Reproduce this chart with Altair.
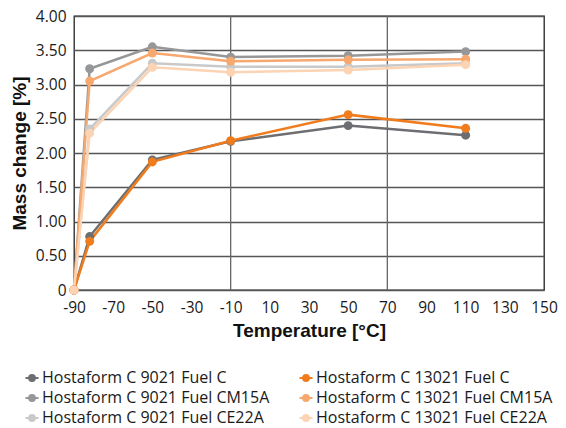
import altair as alt
import pandas as pd

temps = [-90, -82, -50, -10, 50, 110]
series_names = [
    "Hostaform C 9021 Fuel C",
    "Hostaform C 9021 Fuel CM15A",
    "Hostaform C 9021 Fuel CE22A",
    "Hostaform C 13021 Fuel C",
    "Hostaform C 13021 Fuel CM15A",
    "Hostaform C 13021 Fuel CE22A",
]
series_colors = ["#6d6e71", "#969799", "#c9c9c9", "#f07c1e", "#f7a86e", "#fcd3b3"]
v_9021_c = [0, 0.78, 1.90, 2.17, 2.40, 2.26]
v_9021_cm15a = [0, 3.23, 3.55, 3.40, 3.42, 3.48]
v_9021_ce22a = [0, 2.35, 3.31, 3.26, 3.26, 3.31]
v_13021_c = [0, 0.71, 1.87, 2.18, 2.56, 2.36]
v_13021_cm15a = [0, 3.05, 3.46, 3.34, 3.36, 3.37]
v_13021_ce22a = [0, 2.29, 3.25, 3.18, 3.21, 3.29]
values = [v_9021_c, v_9021_cm15a, v_9021_ce22a, v_13021_c, v_13021_cm15a, v_13021_ce22a]

x_ticks = list(range(-90, 151, 20))
y_ticks = [0, 0.5, 1, 1.5, 2, 2.5, 3, 3.5, 4]
x_grid = [-10, 70]

rows = []
for name, vals in zip(series_names, values):
    for t, v in zip(temps, vals):
        rows.append({"series": name, "temp": t, "value": v})
df = pd.DataFrame(rows)
grid_df = pd.DataFrame({"g": x_grid})

LFONT = "Open Sans"
TFONT = "Liberation Sans"

xscale = alt.Scale(domain=[-90, 150], nice=False, zero=False)
yscale = alt.Scale(domain=[0, 4], nice=False)
cscale = alt.Scale(domain=series_names, range=series_colors)

color = alt.Color(
    "series:N",
    sort=series_names,
    scale=cscale,
    legend=alt.Legend(
        title=None,
        orient="none",
        legendX=-50,
        legendY=354,
        columns=2,
        columnPadding=25,
        rowPadding=4,
        symbolType="M-1,0 L1,0 M0.45,0 A0.45,0.45 0 1,1 -0.45,0 A0.45,0.45 0 1,1 0.45,0 Z",
        symbolSize=170,
        symbolStrokeWidth=2,
        symbolOffset=0,
        labelFont=LFONT,
        labelFontSize=16,
        labelColor="#1a1a1a",
        labelOffset=2,
        labelLimit=400,
    ),
)

grid = alt.Chart(grid_df).mark_rule(color="#666666", strokeWidth=1.3).encode(
    x=alt.X("g:Q", scale=xscale)
)

lines = alt.Chart(df).mark_line(strokeWidth=2.5).encode(
    x=alt.X(
        "temp:Q",
        scale=xscale,
        axis=alt.Axis(
            values=x_ticks,
            tickCount=40,
            labelExpr="'' + datum.value",
            title="Temperature [°C]",
            grid=False,
            ticks=False,
            domain=False,
            labelPadding=10,
            titlePadding=6,
            labelOverlap=False,
            labelFlush=False,
        ),
    ),
    y=alt.Y(
        "value:Q",
        scale=yscale,
        axis=alt.Axis(
            values=y_ticks,
            tickCount=40,
            labelExpr="datum.value == 0 ? '0' : format(datum.value, '.2f')",
            title="Mass change [%]",
            grid=True,
            gridColor="#555555",
            gridWidth=1.3,
            ticks=False,
            domain=False,
            labelPadding=8,
            titlePadding=6,
            labelOverlap=False,
            labelFlush=False,
        ),
    ),
    color=color,
    detail="series:N",
)

points = alt.Chart(df).mark_circle(size=80, opacity=1).encode(
    x=alt.X("temp:Q", scale=xscale),
    y=alt.Y("value:Q", scale=yscale),
    color=alt.Color("series:N", sort=series_names, scale=cscale, legend=None),
)

chart = (
    alt.layer(grid, lines, points)
    .properties(
        width=470,
        height=274,
        autosize=alt.AutoSizeParams(type="none"),
        padding={"left": 66, "top": 8, "right": 14, "bottom": 138},
    )
    .configure_view(stroke="#222222", strokeWidth=1.3)
    .configure_axis(
        labelOverlap=False,
        labelFlush=False,
        labelFont=LFONT,
        labelFontSize=15.5,
        labelColor="#1a1a1a",
        titleFont=TFONT,
        titleFontSize=19,
        titleFontWeight="bold",
        titleColor="#111111",
    )
)

chart.save("out.html", embed_options={"renderer": "svg", "actions": False})
